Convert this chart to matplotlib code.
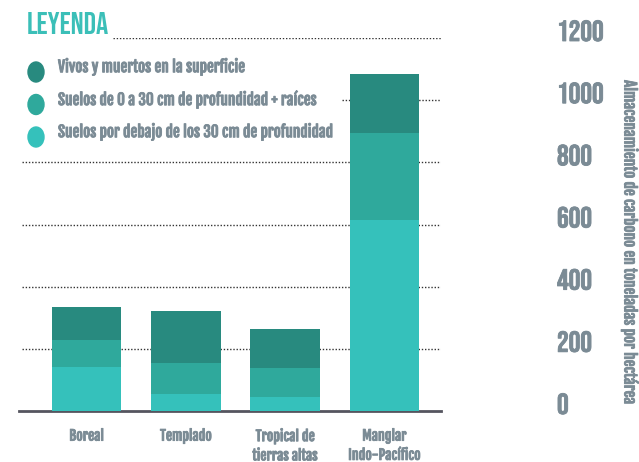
import matplotlib
matplotlib.use("Agg")
import matplotlib.pyplot as plt
import matplotlib.patheffects as pe
import matplotlib.transforms as mtransforms
from matplotlib.patches import Ellipse

# datos (toneladas de carbono por hectárea)
categorias = ["Boreal", "Templado", "Tropical de\ntierras altas", "Manglar\nIndo-Pacífico"]
suelos_profundos = [141, 55, 45, 614]
suelos_0_30 = [87, 99, 93, 280]
superficie = [106, 168, 126, 190]
ticks_y = [0, 200, 400, 600, 800, 1000, 1200]

series = ["Vivos y muertos en la superficie",
          "Suelos de 0 a 30 cm de profundidad + raíces",
          "Suelos por debajo de los 30 cm de profundidad"]

c_oscuro = "#288a7f"
c_medio = "#2fa99c"
c_claro = "#35c1bb"
gris = "#7b8b95"

fuente = ['Fjalla One', 'Roboto Condensed', 'DejaVu Sans']
titulo = ['Bebas Neue', 'Fjalla One', 'DejaVu Sans']
plt.rcParams['font.family'] = fuente

# un poco más de grosor en los textos grises
grueso = [pe.withStroke(linewidth=0.6, foreground=gris)]

W, H = 639, 462
fig = plt.figure(figsize=(W / 100, H / 100), dpi=100)
ax = fig.add_axes([19 / W, 1 - 411 / H, 422 / W, 373 / H])

x = list(range(len(categorias)))
ancho = 0.70
ax.bar(x, suelos_profundos, ancho, color=c_claro, zorder=3)
ax.bar(x, suelos_0_30, ancho, bottom=suelos_profundos, color=c_medio, zorder=3)
base2 = [a + b for a, b in zip(suelos_profundos, suelos_0_30)]
ax.bar(x, superficie, ancho, bottom=base2, color=c_oscuro, zorder=3)

ax.set_xlim(-0.68, 3.57)
ax.set_ylim(0, 1200)

# líneas de guía punteadas
inicio = {1200: (113 - 19) / 422, 1000: (342 - 19) / 422}
for t in ticks_y[1:]:
    ax.hlines(t, inicio.get(t, 0.007), 1.0, transform=ax.get_yaxis_transform(),
              colors="#333333", linestyles=(0, (1, 1.3)), linewidth=1, zorder=1)

for s in ["top", "left", "right"]:
    ax.spines[s].set_visible(False)
ax.spines["bottom"].set_color("#55555f")
ax.spines["bottom"].set_linewidth(2)

ax.set_xticks(x)
ax.set_xticklabels(categorias, fontsize=10, color=gris, linespacing=1.25,
                   path_effects=grueso)
ax.tick_params(axis="x", length=0, pad=12)
ax.set_yticks([])

# etiquetas del eje y a la derecha
bajar = mtransforms.ScaledTranslation(0, -3 / 100, fig.dpi_scale_trans)
for t in ticks_y:
    ax.text(557 / W, t, str(t), transform=mtransforms.blended_transform_factory(
        fig.transFigure, ax.transData) + bajar, fontsize=21, color=gris,
        family=titulo, va="baseline", ha="left", path_effects=grueso)

fig.text(630 / W, 1 - 243 / H, "Almacenamiento de carbono en toneladas por hectárea",
         rotation=270, ha="center", va="center", fontsize=11, color=gris,
         path_effects=grueso)

# leyenda
fig.text(27 / W, 1 - 23 / H, "LEYENDA", fontsize=22, color="#3bbfb8", va="center",
         family=titulo)
for i, (nombre, col) in enumerate(zip(series, [c_oscuro, c_medio, c_claro])):
    yc = 72 + i * 32.5
    fig.add_artist(Ellipse((36 / W, 1 - yc / H), 16 / W, 20 / H,
                           transform=fig.transFigure, color=col))
    fig.text(58 / W, 1 - (yc - 5) / H, nombre, fontsize=11, color=gris, va="center",
             path_effects=grueso)

fig.savefig("out.png", dpi=100)
